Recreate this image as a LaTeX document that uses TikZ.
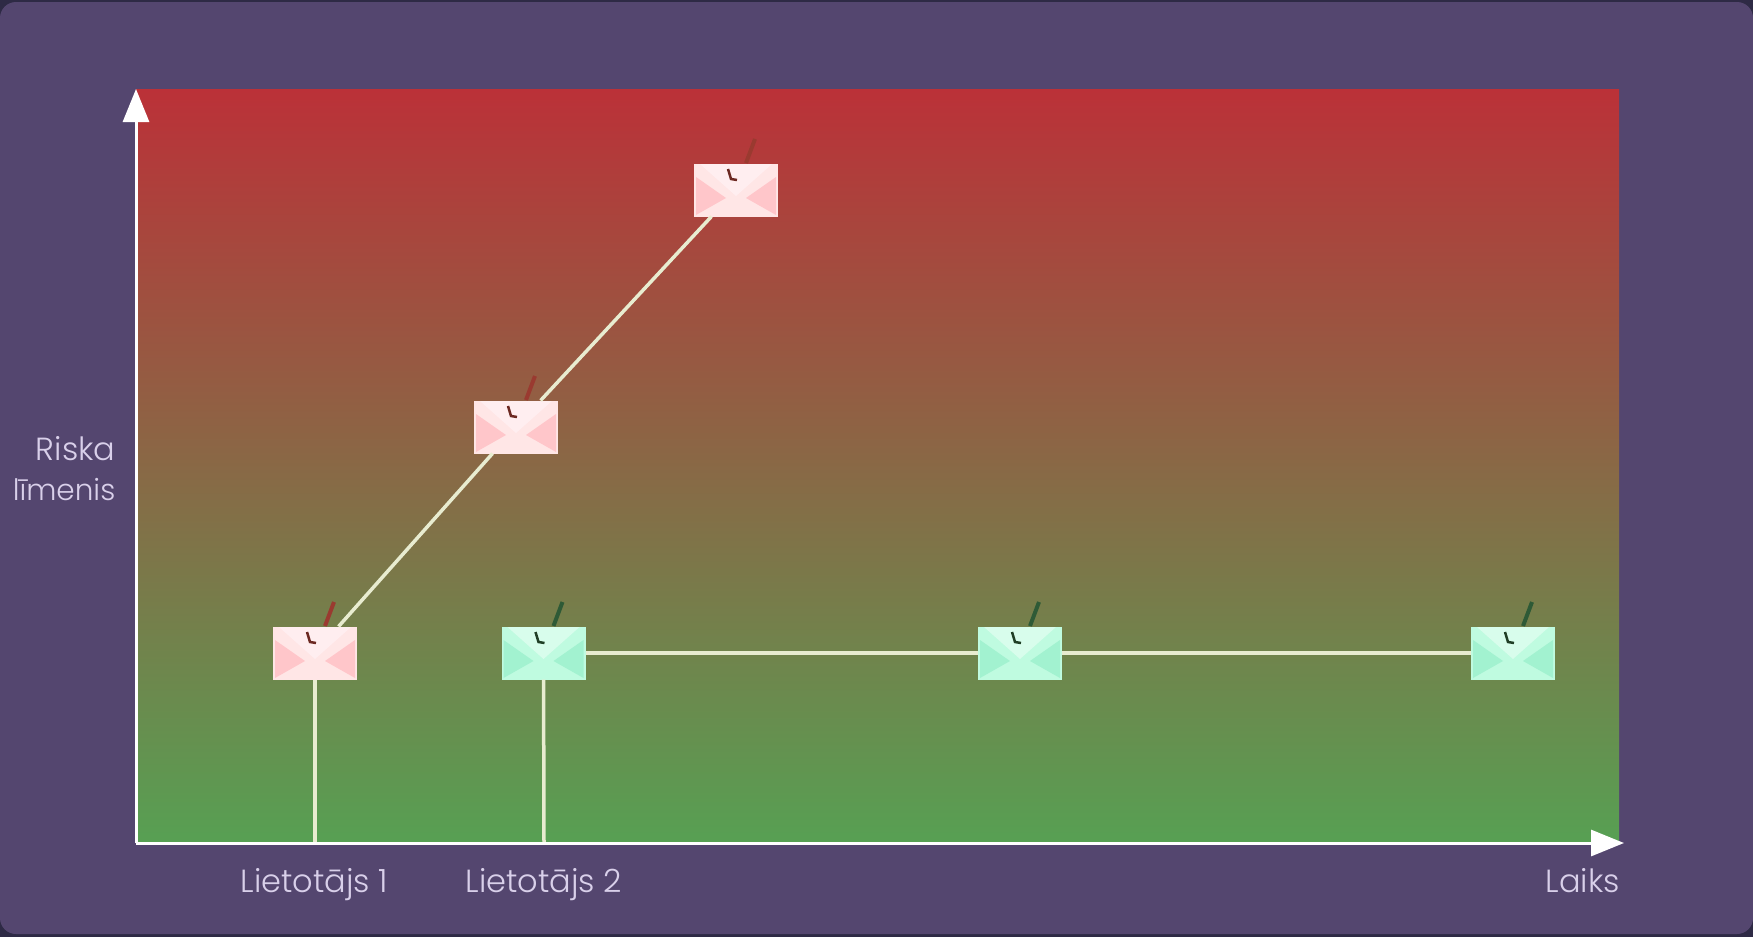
\documentclass[tikz,border=0pt]{standalone}
\usepackage{fontspec}
\setmainfont{Poppins}[UprightFont=* Light]
\usetikzlibrary{arrows.meta,backgrounds,calc}
\definecolor{panelbg}{HTML}{54466F}
\definecolor{paneledge}{HTML}{2E2A45}
\definecolor{labeltext}{HTML}{D9D0EA}
\definecolor{riskred}{HTML}{BB3138}
\definecolor{riskgreen}{HTML}{57A053}
\definecolor{traceline}{HTML}{E8ECD0}
\definecolor{pinkbody}{HTML}{FFE6E6}
\definecolor{pinkflap}{HTML}{FFEEF0}
\definecolor{pinkside}{HTML}{FFC6CA}
\definecolor{pinkstick}{HTML}{9A3A30}
\definecolor{greenbody}{HTML}{BFFBE0}
\definecolor{greenflap}{HTML}{D8FDEC}
\definecolor{greenside}{HTML}{A2F2D0}
\definecolor{greenstick}{HTML}{2E5A36}
\tikzset{
  mailbox/.style={minimum width=84,minimum height=53,inner sep=0pt,outer sep=0pt},
  traceline/.style={draw=traceline,line width=3.5pt},
  axisline/.style={draw=white,line width=3pt,-{Triangle[length=33pt,width=26pt]}},
  axislabel/.style={text=labeltext,font=\fontsize{32}{40}\selectfont,inner sep=0pt},
}
% body, flap, side and stick colours
\newcommand{\mailicon}[5]{
\begin{scope}[shift={(#1.center)}]
\fill[#2] (-42,-26.5) rectangle (42,26.5);
\fill[#4] (-40,-13) -- (-10,8) -- (-40,25) -- cycle;
\fill[#4] (40,-13) -- (10,8) -- (40,25) -- cycle;
\fill[#3] (-36,-26) -- (0,6) -- (36,-26) -- cycle;
\draw[#5,line width=4pt] (10,-27) -- (19,-51);
\draw[#5!70!black,line width=2.5pt] (-8,-21) -- (-5,-11) -- (1,-10);
\end{scope}
}
\begin{document}
\begin{tikzpicture}[x=1pt,y=-1pt]
\useasboundingbox (0,0) rectangle (1753,937);
\fill[paneledge] (0,0) rectangle (1753,937);
\fill[panelbg,rounded corners=16pt] (0,2) rectangle (1753,934);
\shade[top color=riskred,bottom color=riskgreen] (136,89) rectangle (1619,843);

\coordinate (origin) at (136,843);
\coordinate (ytip) at (136,89);
\coordinate (xtip) at (1624,843);
\coordinate (foot1) at (315,843);
\coordinate (foot2) at (544,843);

\node[mailbox] (pink1) at (315,653) {};
\node[mailbox] (pink2) at (516,427) {};
\node[mailbox] (pink3) at (736,190) {};
\node[mailbox] (green1) at (543.5,653) {};
\node[mailbox] (green2) at (1020,653) {};
\node[mailbox] (green3) at (1513,653) {};

\mailicon{pink1}{pinkbody}{pinkflap}{pinkside}{pinkstick}
\mailicon{pink2}{pinkbody}{pinkflap}{pinkside}{pinkstick}
\mailicon{pink3}{pinkbody}{pinkflap}{pinkside}{pinkstick}
\mailicon{green1}{greenbody}{greenflap}{greenside}{greenstick}
\mailicon{green2}{greenbody}{greenflap}{greenside}{greenstick}
\mailicon{green3}{greenbody}{greenflap}{greenside}{greenstick}

\draw[traceline] (pink1) -- (pink2);
\draw[traceline] (pink2) -- (pink3);
\draw[traceline] (green1) -- (green2);
\draw[traceline] (green2) -- (green3);
\draw[traceline] (pink1) -- (foot1);
\draw[traceline] (green1) -- (foot2);
\draw[axisline] (origin) -- (ytip);
\draw[axisline] (origin) -- (xtip);

\node[axislabel,anchor=base east] (riska) at (115.5,460) {Riska};
\node[axislabel,anchor=base east,font=\fontsize{29.5}{40}\selectfont] (limenis) at (115.5,500) {līmenis};
\node[axislabel,anchor=base] (user1) at (314.5,892) {Lietotājs 1};
\node[axislabel,anchor=base] (user2) at (544,892) {Lietotājs 2};
\node[axislabel,anchor=base east] (laiks) at (1620,892) {Laiks};
\end{tikzpicture}
\end{document}
